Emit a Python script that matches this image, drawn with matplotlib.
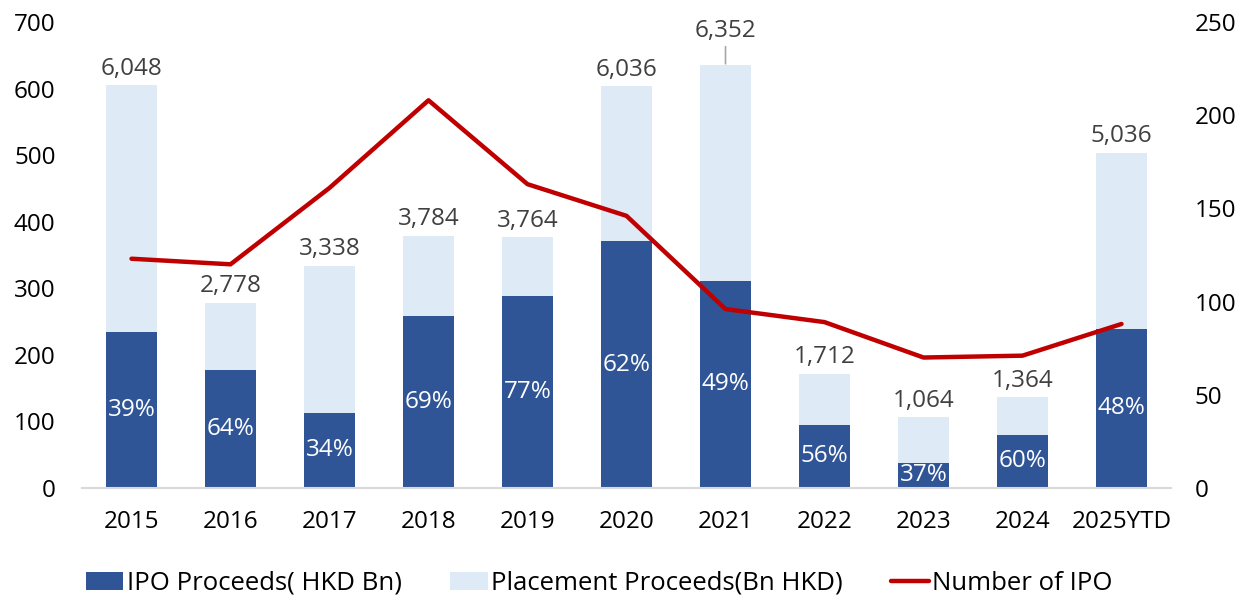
import numpy as np
import matplotlib.pyplot as plt
from matplotlib.legend_handler import HandlerLine2D

plt.rcParams['font.family'] = ['Open Sans', 'DejaVu Sans']

years = ['2015', '2016', '2017', '2018', '2019', '2020', '2021', '2022', '2023', '2024', '2025YTD']
totals = [604.8, 277.8, 333.8, 378.4, 376.4, 603.6, 635.2, 171.2, 106.4, 136.4, 503.6]  # 总募资
ipo = [234, 177, 113, 258, 288, 371, 311, 95, 38, 80, 239]  # IPO募资
total_labels = ['6,048', '2,778', '3,338', '3,784', '3,764', '6,036', '6,352', '1,712', '1,064', '1,364', '5,036']
pct_labels = ['39%', '64%', '34%', '69%', '77%', '62%', '49%', '56%', '37%', '60%', '48%']
num_ipo = [123, 120, 161, 208, 163, 146, 96, 89, 70, 71, 88]

placement = [t - i for t, i in zip(totals, ipo)]
x = np.arange(len(years))
fs = 17.5

fig = plt.figure(figsize=(12.38, 5.99), dpi=100)
ax = fig.add_axes([82 / 1238, 1 - 488 / 599, (1171 - 82) / 1238, (488 - 22) / 599])

b1 = ax.bar(x, ipo, width=0.525, color='#2f5597', label='IPO Proceeds( HKD Bn)')
b2 = ax.bar(x, placement, width=0.525, bottom=ipo, color='#deebf7', label='Placement Proceeds(Bn HKD)')

ax.set_xlim(-0.5, 10.5)
ax.set_ylim(0, 700)
ax.set_yticks(range(0, 701, 100))
ax.set_xticks(x)
ax.set_xticklabels(years)
for s in ['top', 'right', 'left']:
    ax.spines[s].set_visible(False)
ax.spines['bottom'].set_color('#d9d9d9')
ax.spines['bottom'].set_linewidth(1.5)
ax.tick_params(axis='both', length=0, labelsize=fs, colors='black')
ax.tick_params(axis='x', pad=16)
ax.tick_params(axis='y', pad=19)

# 百分比和总额标签
for i in range(len(years)):
    ax.text(x[i], ipo[i] / 2, pct_labels[i], ha='center', va='center', color='white', fontsize=fs)
    if years[i] == '2021':
        ax.annotate(total_labels[i], xy=(x[i], totals[i] + 2), xytext=(x[i], totals[i] + 34),
                    ha='center', va='bottom', color='#404040', fontsize=fs,
                    arrowprops=dict(arrowstyle='-', color='#a6a6a6', lw=1.2, shrinkA=1, shrinkB=0))
    else:
        ax.text(x[i], totals[i] + 7, total_labels[i], ha='center', va='bottom', color='#404040', fontsize=fs)

ax2 = ax.twinx()
l1, = ax2.plot(x, num_ipo, color='#c00000', lw=3.2, solid_capstyle='round', label='Number of IPO')
ax2.set_ylim(0, 250)
ax2.set_yticks(range(0, 251, 50))
for s in ['top', 'right', 'left', 'bottom']:
    ax2.spines[s].set_visible(False)
ax2.tick_params(axis='y', length=0, labelsize=fs, pad=17)

fig.legend(handles=[b1, b2, l1], loc='center', bbox_to_anchor=(0.484, 0.026), ncol=3,
           frameon=False, fontsize=18.5, handlelength=1.45, handleheight=0.7, columnspacing=1.9,
           handletextpad=0.12, borderaxespad=0,
           handler_map={l1: HandlerLine2D(marker_pad=0)})

fig.savefig('out.png', dpi=100, facecolor='white')
